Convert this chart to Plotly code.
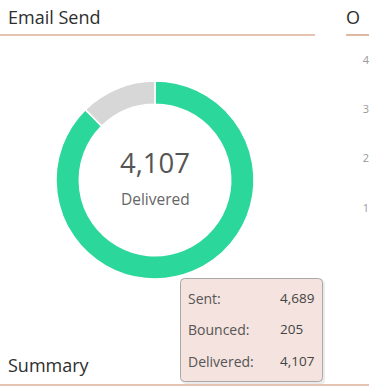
import plotly.graph_objects as go

W, H = 369, 391

# ---- data ----
sent = 4689
bounced = 205
delivered = 4107
slice_labels = ["Delivered", "Not delivered"]
slice_values = [delivered, sent - delivered]
slice_colors = ["#2bd79b", "#d7d7d7"]
tooltip_rows = ["Sent:", "Bounced:", "Delivered:"]
tooltip_vals = [sent, bounced, delivered]
side_ticks = [1, 2, 3, 4]

def px(x):
    return x / W

def py(y):
    return 1 - y / H

FONT = "Open Sans"

fig = go.Figure()

cx, cy, r = 155, 180, 99
fig.add_trace(go.Pie(
    labels=slice_labels, values=slice_values,
    marker=dict(colors=slice_colors, line=dict(color="white", width=1.5)),
    hole=0.765, sort=False, direction="clockwise", rotation=0,
    textinfo="none", hoverinfo="skip", showlegend=False,
    domain=dict(x=[px(cx - r), px(cx + r)], y=[py(cy + r), py(cy - r)]),
))

# partial axis of the neighbouring chart on the right
fig.add_trace(go.Scatter(x=[None], y=[None], xaxis="x", yaxis="y", showlegend=False))

y0px = 257.3
upx = 49.33
fig.update_layout(
    xaxis=dict(visible=False, domain=[px(360), px(368)], fixedrange=True),
    yaxis=dict(domain=[py(y0px), py(y0px - 5 * upx)], range=[0, 5],
               tickvals=side_ticks, ticktext=[str(v) for v in side_ticks],
               showgrid=False, zeroline=False, showline=False,
               tickfont=dict(family=FONT, size=11, color="#999999"),
               anchor="free", position=px(369), side="left", ticks=""),
)

def text(x, y, s, size, color, xanchor="left"):
    return dict(x=px(x), y=py(y), xref="paper", yref="paper", text=s, showarrow=False,
                xanchor=xanchor, yanchor="middle", font=dict(family=FONT, size=size, color=color))

ann = [
    text(6, 17, "Email Send", 18, "#2e2e2e"),
    text(344, 17, "O", 18, "#2e2e2e"),
    text(6, 365, "Summary", 18, "#2e2e2e"),
    text(cx, 163, f"{delivered:,}", 27.5, "#555555", "center"),
    text(cx, 199, "Delivered", 15.5, "#666666", "center"),
]

row_y = [298, 329, 361]
for lab, val, yy in zip(tooltip_rows, tooltip_vals, row_y):
    ann.append(text(186, yy, lab, 14, "#555555"))
    ann.append(text(278, yy, f"{val:,}", 13.5, "#444444"))

def rounded_rect(x0, y0, x1, y1, rad):
    X = lambda v: f"{px(v):.5f}"
    Y = lambda v: f"{py(v):.5f}"
    return (f"M {X(x0+rad)},{Y(y0)} L {X(x1-rad)},{Y(y0)} Q {X(x1)},{Y(y0)} {X(x1)},{Y(y0+rad)} "
            f"L {X(x1)},{Y(y1-rad)} Q {X(x1)},{Y(y1)} {X(x1-rad)},{Y(y1)} "
            f"L {X(x0+rad)},{Y(y1)} Q {X(x0)},{Y(y1)} {X(x0)},{Y(y1-rad)} "
            f"L {X(x0)},{Y(y0+rad)} Q {X(x0)},{Y(y0)} {X(x0+rad)},{Y(y0)} Z")

line_col = "#c98a62"
shapes = [
    dict(type="line", xref="paper", yref="paper", x0=px(0), x1=px(315), y0=py(35), y1=py(35),
         line=dict(color=line_col, width=1.2)),
    dict(type="line", xref="paper", yref="paper", x0=px(346), x1=px(369), y0=py(35), y1=py(35),
         line=dict(color=line_col, width=1.2)),
    dict(type="line", xref="paper", yref="paper", x0=px(0), x1=px(369), y0=py(385), y1=py(385),
         line=dict(color=line_col, width=1.2)),
    dict(type="path", xref="paper", yref="paper", path=rounded_rect(182, 280, 325, 384, 4),
         fillcolor="rgba(0,0,0,0.08)", line=dict(width=0), layer="above"),
    dict(type="path", xref="paper", yref="paper", path=rounded_rect(180.5, 278.5, 322.5, 381.5, 4),
         fillcolor="#f4e3de", line=dict(color="#a8a8a8", width=1), layer="above"),
]

fig.update_layout(
    width=W, height=H, margin=dict(l=0, r=0, t=0, b=0),
    paper_bgcolor="white", plot_bgcolor="white",
    annotations=ann, shapes=shapes, showlegend=False,
)

fig.write_html("out.html")
